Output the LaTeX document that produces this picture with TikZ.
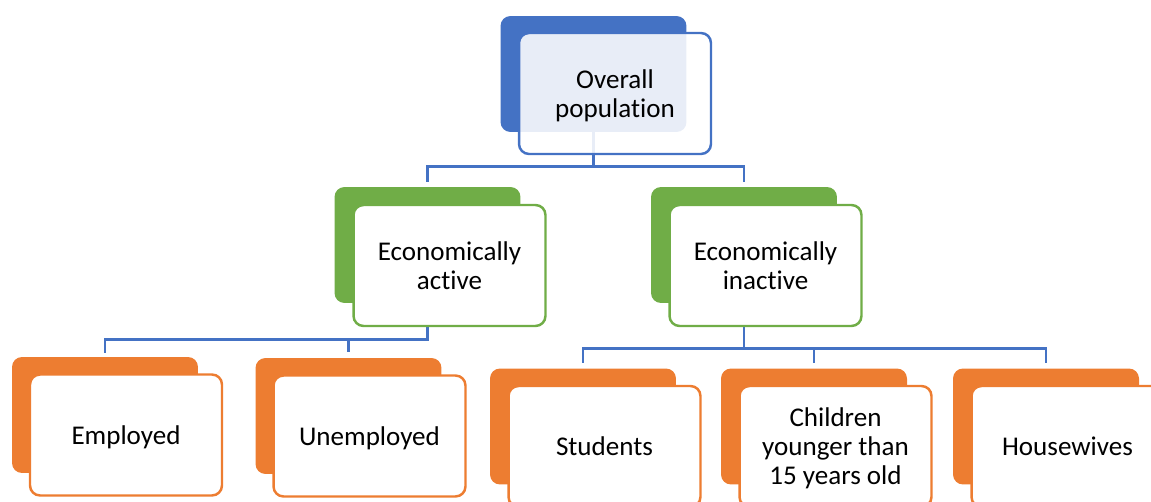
\documentclass[tikz,border=0pt]{standalone}
\usepackage{fontspec}
\setmainfont{Carlito}
\definecolor{blu}{HTML}{4472C4}
\definecolor{grn}{HTML}{70AD47}
\definecolor{org}{HTML}{ED7D31}
% keep t and i apart (Carlito joins them)
\newcommand{\ti}{t\kern0pt i}
\begin{document}
\begin{tikzpicture}[x=0.02cm,y=0.02cm,
  backcard/.style={fill=#1,rounded corners=0.2cm,minimum width=3.72cm,minimum height=2.32cm,inner sep=0pt},
  frontcard/.style={draw=#1,fill=white,line width=1.4pt,rounded corners=0.2cm,minimum width=3.84cm,minimum height=2.42cm,align=center,font=\fontsize{15.4}{16.5}\selectfont,text depth=0pt},
  conn/.style={draw=blu,line width=1.5pt}]
\useasboundingbox (0,0) rectangle (1151,-502);
\node[backcard=blu] (ovb) at (593.5,-74) {};
\node[backcard=grn] (eab) at (427.5,-245) {};
\node[backcard=grn] (eib) at (744,-245) {};
\node[backcard=org] (emb) at (105,-415) {};
\node[backcard=org] (unb) at (348.5,-416) {};
\node[backcard=org] (stb) at (583,-426.5) {};
\node[backcard=org] (chb) at (814,-426.5) {};
\node[backcard=org] (hwb) at (1046,-426.5) {};
\draw[conn] (ovb.south) -- ++(0,-34) -| ([yshift=2.8pt]eab.north);
\draw[conn] (ovb.south) -- ++(0,-34) -| ([yshift=2.8pt]eib.north);
\draw[conn] (eab.south) -- ++(0,-36) -| ([yshift=2.3pt]emb.north);
\draw[conn] (eab.south) -- ++(0,-36) -| ([yshift=3.4pt]unb.north);
\draw[conn] (eib.south) -- ++(0,-45) -| ([yshift=2.8pt]stb.north);
\draw[conn] (eib.south) -- ++(0,-45) -| ([yshift=2.8pt]chb.north);
\draw[conn] (eib.south) -- ++(0,-45) -| ([yshift=2.8pt]hwb.north);
\node[frontcard=blu,fill opacity=0.88,text opacity=1] (ov) at (615,-93.5) {Overall\\popula\ti on};
\node[frontcard=grn] (ea) at (449.5,-265.5) {Economically\\ac\ti ve};
\node[frontcard=grn] (ei) at (765.5,-265.5) {Economically\\inac\ti ve};
\node[frontcard=org] (em) at (126,-435) {Employed};
\node[frontcard=org] (un) at (369.5,-436) {Unemployed};
\node[frontcard=org] (st) at (604.5,-446.5) {Students};
\node[frontcard=org] (ch) at (835.5,-446.5) {Children\\younger than\\15 years old};
\node[frontcard=org] (hw) at (1067.5,-446.5) {Housewives};
\end{tikzpicture}
\end{document}
